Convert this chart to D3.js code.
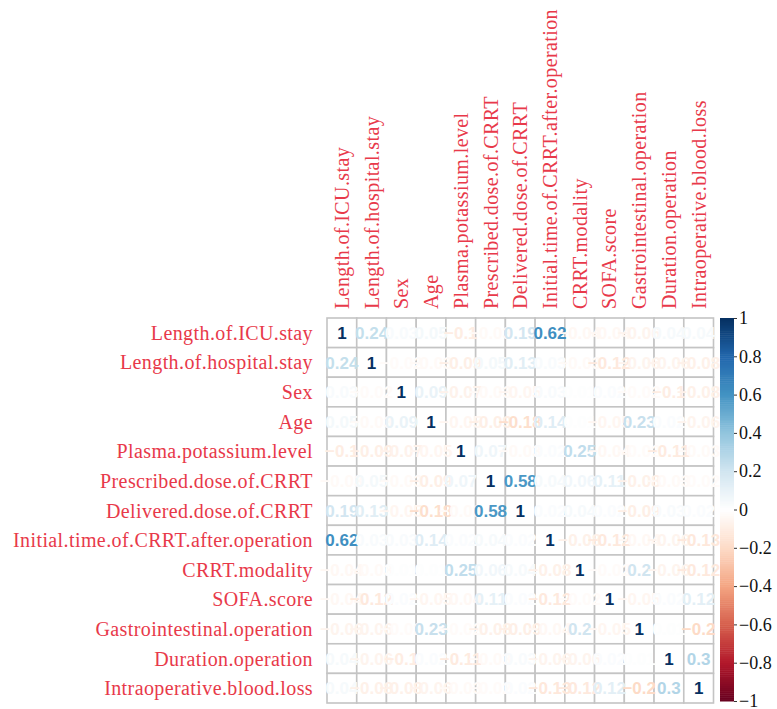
<!DOCTYPE html>
<html>
<head>
<meta charset="utf-8">
<script src="https://cdn.jsdelivr.net/npm/d3@7"></script>
<style>
  html, body { margin: 0; padding: 0; background: #fff; }
  svg { display: block; }
</style>
</head>
<body>
<svg id="chart" width="777" height="709"></svg>
<script>
// ---------------- DATA ----------------
const variables = [
  "Length.of.ICU.stay",
  "Length.of.hospital.stay",
  "Sex",
  "Age",
  "Plasma.potassium.level",
  "Prescribed.dose.of.CRRT",
  "Delivered.dose.of.CRRT",
  "Initial.time.of.CRRT.after.operation",
  "CRRT.modality",
  "SOFA.score",
  "Gastrointestinal.operation",
  "Duration.operation",
  "Intraoperative.blood.loss"
];

// upper-triangle correlations (row i, columns i+1..12)
const upperTriangle = [
  [0.24, 0.03, 0.05, -0.10, -0.03, 0.19, 0.62, -0.04, -0.04, -0.06, 0.04, 0.04],
  [-0.02, -0.03, -0.09, 0.05, 0.13, 0.03, -0.03, -0.12, -0.06, -0.06, -0.08],
  [0.09, -0.07, -0.03, -0.05, 0.03, 0.01, 0.02, -0.02, -0.10, -0.08],
  [-0.05, -0.09, -0.18, 0.14, 0.01, -0.05, 0.23, 0.02, -0.06],
  [0.07, -0.03, 0.02, 0.25, -0.04, -0.02, -0.11, -0.03],
  [0.58, 0.04, 0.06, 0.11, -0.08, -0.03, -0.02],
  [0.02, 0.04, 0.02, -0.09, 0.03, 0.02],
  [-0.08, -0.12, -0.04, -0.06, -0.13],
  [-0.02, 0.20, -0.06, -0.12],
  [-0.05, 0.02, 0.12],
  [0.01, -0.20],
  [0.30]
];

const legendTicks = [1, 0.8, 0.6, 0.4, 0.2, 0, -0.2, -0.4, -0.6, -0.8, -1];
const paletteStops = [-1, -0.8, -0.6, -0.4, -0.2, 0, 0.2, 0.4, 0.6, 0.8, 1];
const paletteColors = ["#67001F", "#B2182B", "#D6604D", "#F4A582", "#FDDBC7",
                       "#FFFFFF", "#D1E5F0", "#92C5DE", "#4393C3", "#2166AC", "#053061"];

// ---------------- BUILD MATRIX ----------------
const n = variables.length;
const corr = variables.map(() => new Array(n).fill(0));
for (let i = 0; i < n; i++) {
  corr[i][i] = 1;
  upperTriangle[i] && upperTriangle[i].forEach((v, k) => {
    const j = i + 1 + k;
    corr[i][j] = v;
    corr[j][i] = v;
  });
}
const cells = [];
variables.forEach((r, i) => variables.forEach((c, j) => cells.push({ row: r, col: c, v: corr[i][j] })));

// ---------------- LAYOUT ----------------
const svg = d3.select("#chart");
svg.append("rect").attr("width", 777).attr("height", 709).attr("fill", "#fff");

const gridLeft = 327, gridRight = 713.5, gridTop = 318, gridBottom = 703;
const x = d3.scaleBand().domain(variables).range([gridLeft, gridRight]).padding(0);
const y = d3.scaleBand().domain(variables).range([gridTop, gridBottom]).padding(0);
const color = d3.scaleLinear().domain(paletteStops).range(paletteColors).interpolate(d3.interpolateRgb).clamp(true);
const fmt = d3.format(".2~f");

const labelColor = "#e8394a";
const serif = "'Liberation Serif', 'DejaVu Serif', serif";

// cells
svg.append("g").selectAll("rect").data(cells).join("rect")
  .attr("x", d => x(d.col)).attr("y", d => y(d.row))
  .attr("width", x.bandwidth()).attr("height", y.bandwidth())
  .attr("fill", "#fff").attr("stroke", "#c4c4c4").attr("stroke-width", 1.6);

// numbers
svg.append("g").selectAll("text").data(cells).join("text")
  .attr("x", d => x(d.col) + x.bandwidth() / 2)
  .attr("y", d => y(d.row) + y.bandwidth() / 2)
  .attr("dy", "0.36em")
  .attr("text-anchor", "middle")
  .attr("font-family", "'Liberation Sans', Arial, sans-serif")
  .attr("font-weight", "bold")
  .attr("font-size", 17)
  .attr("fill", d => color(d.v))
  .text(d => fmt(d.v));

// row labels
svg.append("g").selectAll("text").data(variables).join("text")
  .attr("x", 313)
  .attr("y", d => y(d) + y.bandwidth() / 2)
  .attr("dy", "0.35em")
  .attr("text-anchor", "end")
  .attr("font-family", serif)
  .attr("font-size", 20)
  .attr("letter-spacing", 0.4)
  .attr("fill", labelColor)
  .text(d => d);

// column labels
svg.append("g").selectAll("text").data(variables).join("text")
  .attr("transform", d => `translate(${x(d) + x.bandwidth() / 2},309) rotate(-90)`)
  .attr("dy", "0.35em")
  .attr("text-anchor", "start")
  .attr("font-family", serif)
  .attr("font-size", 20)
  .attr("letter-spacing", 0.4)
  .attr("fill", labelColor)
  .text(d => d);

// colour legend
const barX = 720, barW = 14;
const ly = d3.scaleLinear().domain([-1, 1]).range([701, 318]);
const steps = d3.range(-1, 1, 0.01);
svg.append("g").selectAll("rect").data(steps).join("rect")
  .attr("x", barX).attr("width", barW)
  .attr("y", d => ly(d + 0.01))
  .attr("height", d => ly(d) - ly(d + 0.01) + 0.5)
  .attr("fill", d => color(d + 0.005));

const axis = d3.axisRight(ly).tickValues(legendTicks).tickSize(3).tickPadding(2)
  .tickFormat(d => d3.format("~g")(d));
const ag = svg.append("g").attr("transform", `translate(${barX + barW},0)`).call(axis);
ag.select(".domain").remove();
ag.selectAll("line").attr("stroke", "#333");
ag.selectAll("text").attr("font-family", serif).attr("font-size", 18).attr("fill", "#111");
</script>
</body>
</html>
